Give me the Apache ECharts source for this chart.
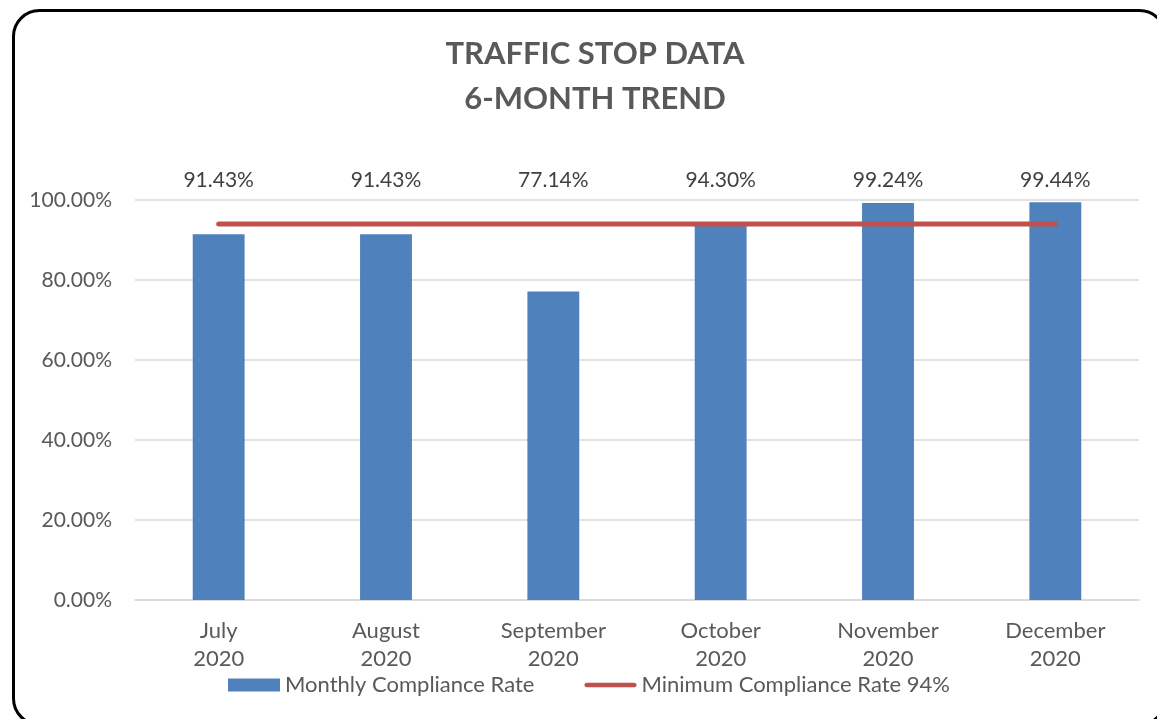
<!DOCTYPE html>
<html><head><meta charset="utf-8">
<script src="https://cdn.jsdelivr.net/npm/echarts@6/dist/echarts.min.js"></script>
<style>html,body{margin:0;padding:0;background:#fff;}#c{width:1157px;height:719px;}</style>
</head><body><div id="c"></div>
<script>
const categories = ['July\n2020','August\n2020','September\n2020','October\n2020','November\n2020','December\n2020'];
const complianceRate = [91.43, 91.43, 77.14, 94.30, 99.24, 99.44];
const minimumRate = [94, 94, 94, 94, 94, 94];
const yTicks = [0, 20, 40, 60, 80, 100];
const seriesNames = ['Monthly Compliance Rate', 'Minimum Compliance Rate 94%'];
const titleLines = ['TRAFFIC STOP DATA', '6-MONTH TREND'];

const FONT = 'Lato';
const GREY = '#595959';
const chart = echarts.init(document.getElementById('c'));
chart.setOption({
  animation: false,
  textStyle: { fontFamily: FONT },
  graphic: [{
    type: 'rect', left: 11, top: 8, z: -1,
    shape: { x: 0, y: 0, width: 1152, height: 714, r: 26 },
    style: { fill: 'none', stroke: '#000', lineWidth: 3 }
  }],
  title: {
    text: titleLines.join('\n'), left: 590, top: 26, textAlign: 'center',
    textStyle: { fontFamily: FONT, fontWeight: 'bold', fontSize: 31, color: GREY, lineHeight: 45 }
  },
  legend: {
    top: 669, left: 223, itemGap: 50, itemWidth: 52, itemHeight: 13,
    textStyle: { fontFamily: FONT, fontSize: 22, color: GREY },
    data: [
      { name: seriesNames[0], icon: 'rect' },
      { name: seriesNames[1], icon: 'path://M3,0 L53,0 Q56,0 56,2.5 Q56,5 53,5 L3,5 Q0,5 0,2.5 Q0,0 3,0 Z' }
    ]
  },
  grid: { left: 135, right: 18, top: 200, bottom: 119 },
  xAxis: [{
    type: 'category', data: categories,
    axisLine: { lineStyle: { color: '#d9d9d9', width: 1.5 } },
    axisTick: { show: false },
    axisLabel: { color: GREY, fontSize: 22, lineHeight: 28, margin: 17, fontFamily: FONT }
  }, {
    type: 'category', position: 'top', data: categories,
    axisLine: { show: false }, axisTick: { show: false },
    axisLabel: { color: '#404040', fontSize: 21, margin: 9, fontFamily: FONT,
      formatter: (v, i) => complianceRate[i].toFixed(2) + '%' }
  }],
  yAxis: {
    type: 'value', min: yTicks[0], max: yTicks[yTicks.length - 1], interval: 20,
    axisLine: { show: false }, axisTick: { show: false },
    splitLine: { lineStyle: { color: '#d9d9d9', width: 1.5 } },
    axisLabel: { color: GREY, fontSize: 21, margin: 23, fontFamily: FONT, formatter: v => v.toFixed(2) + '%' }
  },
  series: [{
    name: seriesNames[0], type: 'bar', data: complianceRate, barWidth: '31%',
    itemStyle: { color: '#4f81bd' }
  }, {
    name: seriesNames[1], type: 'line', data: minimumRate, symbol: 'none', showSymbol: false,
    itemStyle: { color: '#c0504d' },
    lineStyle: { color: '#c0504d', width: 5, cap: 'round' }
  }]
});
</script></body></html>
